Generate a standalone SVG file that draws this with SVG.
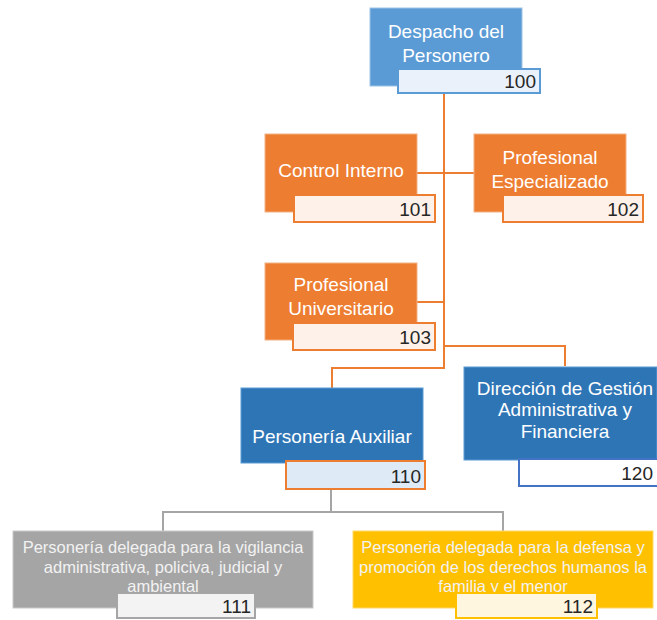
<svg xmlns="http://www.w3.org/2000/svg" width="657" height="620" viewBox="0 0 657 620">
<style>
.t{font-family:"Liberation Sans",Arial,sans-serif;font-size:19px;fill:#ffffff;text-anchor:middle}
.s{font-family:"Liberation Sans",Arial,sans-serif;font-size:16.5px;fill:#f2f2f2;text-anchor:middle}
.n{font-family:"Liberation Sans",Arial,sans-serif;font-size:19px;fill:#262626;text-anchor:end}
.or{fill:#ed7d31;stroke:#f4b183;stroke-width:1}
.on{fill:#fdf1e9;stroke:#ed7d31;stroke-width:2}
.oc{fill:none;stroke:#ed7d31;stroke-width:2}
.gc{fill:none;stroke:#a5a5a5;stroke-width:2}
</style>
<rect width="657" height="620" fill="#ffffff"/>
<g id="connectors">
<path class="oc" d="M444 94 V368 H332 V388"/>
<path class="oc" d="M417 173 H474"/>
<path class="oc" d="M417 302 H444"/>
<path class="oc" d="M444 346 H565 V366"/>
<path class="gc" d="M331 489 V512 H163 V531 M331 512 H503 V531"/>
</g>
<g id="n100">
<rect x="370" y="8" width="152" height="78" fill="#5b9bd5" stroke="#9dc3e6"/>
<text class="t" x="446" y="38">Despacho del</text>
<text class="t" x="446" y="62">Personero</text>
<rect x="398" y="69" width="142" height="24" fill="#eaf1fa" stroke="#5b9bd5" stroke-width="2"/>
<text class="n" x="536" y="88">100</text>
</g>
<g id="n101">
<rect class="or" x="265" y="134" width="152" height="78"/>
<text class="t" x="341" y="177">Control Interno</text>
<rect class="on" x="294" y="195" width="141" height="27"/>
<text class="n" x="431" y="216">101</text>
</g>
<g id="n102">
<rect class="or" x="474" y="134" width="152" height="78"/>
<text class="t" x="550" y="164">Profesional</text>
<text class="t" x="550" y="188">Especializado</text>
<rect class="on" x="503" y="195" width="140" height="27"/>
<text class="n" x="639" y="216">102</text>
</g>
<g id="n103">
<rect class="or" x="265" y="263" width="152" height="77"/>
<text class="t" x="341" y="291">Profesional</text>
<text class="t" x="341" y="315">Universitario</text>
<rect class="on" x="293" y="323" width="142" height="27"/>
<text class="n" x="431" y="344">103</text>
</g>
<g id="n110">
<rect x="241" y="388" width="182" height="75" fill="#2e75b6" stroke="#5b9bd5"/>
<text class="t" x="332" y="443">Personería Auxiliar</text>
<rect x="286" y="461" width="139" height="28" fill="#deebf7" stroke="#ed7d31" stroke-width="2"/>
<text class="n" x="421" y="483">110</text>
</g>
<g id="n120">
<rect x="464" y="367" width="193" height="93" fill="#2e75b6" stroke="#5b9bd5"/>
<text class="t" x="565" y="395">Dirección de Gestión</text>
<text class="t" x="565" y="416">Administrativa y</text>
<text class="t" x="565" y="438">Financiera</text>
<rect x="519" y="459" width="140" height="27" fill="#ffffff" stroke="#4472c4" stroke-width="2"/>
<text class="n" x="653" y="480">120</text>
</g>
<g id="n111">
<rect x="13" y="531" width="300" height="77" fill="#a5a5a5" stroke="#c9c9c9"/>
<text class="s" x="163" y="553">Personería delegada para la vigilancia</text>
<text class="s" x="163" y="573">administrativa, policiva, judicial y</text>
<text class="s" x="163" y="592">ambiental</text>
<rect x="117" y="593" width="138" height="25" fill="#f3f3f3" stroke="#a5a5a5" stroke-width="2"/>
<text class="n" x="251" y="613">111</text>
</g>
<g id="n112">
<rect x="353" y="531" width="300" height="77" fill="#ffc000" stroke="#ffd966"/>
<text class="s" x="503" y="553">Personeria delegada para la defensa y</text>
<text class="s" x="503" y="573">promoción de los derechos humanos la</text>
<text class="s" x="503" y="592">familia y el menor</text>
<rect x="456" y="593" width="141" height="25" fill="#fff6df" stroke="#ffc000" stroke-width="2"/>
<text class="n" x="593" y="613">112</text>
</g>
</svg>
